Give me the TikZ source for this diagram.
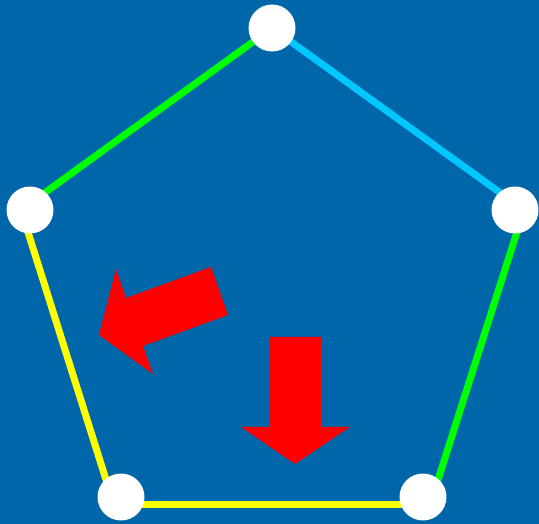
\documentclass[tikz,border=0pt]{standalone}
\usepackage{tikz}
\usetikzlibrary{positioning}
\definecolor{bgblue}{RGB}{0,102,170}
\definecolor{edgegreen}{RGB}{0,255,0}
\definecolor{edgecyan}{RGB}{0,200,255}
\definecolor{edgeyellow}{RGB}{255,255,0}
\definecolor{arrowred}{RGB}{255,0,0}

\begin{document}
\begin{tikzpicture}[
    x=0.02cm, y=-0.02cm,
    vertex/.style={circle, fill=white, inner sep=0pt, minimum size=0.94cm},
    edge/.style={line width=0.14cm},
    bigarrow/.style={fill=arrowred}
]

% Background
\fill[bgblue] (0,0) rectangle (539,524);

% Corners of the outline
\coordinate (ctop) at (272,28);
\coordinate (cleft) at (21,210);
\coordinate (cright) at (524,210);
\coordinate (cbotleft) at (114,505);
\coordinate (cbotright) at (430,505);

% Edges
\draw[edge, edgegreen] (ctop) -- (cleft);
\draw[edge, edgecyan] (ctop) -- (cright);
\draw[edge, edgegreen] (cright) -- (cbotright);
\draw[edge, edgeyellow] (cleft) -- (cbotleft);
\draw[edge, edgeyellow] (cbotleft) -- (cbotright);

% Vertices
\node[vertex] (top) at (272,28) {};
\node[vertex] (left) at (30,210) {};
\node[vertex] (right) at (515,210) {};
\node[vertex] (botleft) at (121,497) {};
\node[vertex] (botright) at (423,497) {};

% Red arrows
\fill[bigarrow] (99,335) -- (116,269) -- (126,298) -- (211,267) -- (228,315)
    -- (143,346) -- (153,374) -- cycle;
\fill[bigarrow] (270,337) -- (321,337) -- (321,427) -- (350,427) -- (295,464)
    -- (241,427) -- (270,427) -- cycle;

\end{tikzpicture}
\end{document}
